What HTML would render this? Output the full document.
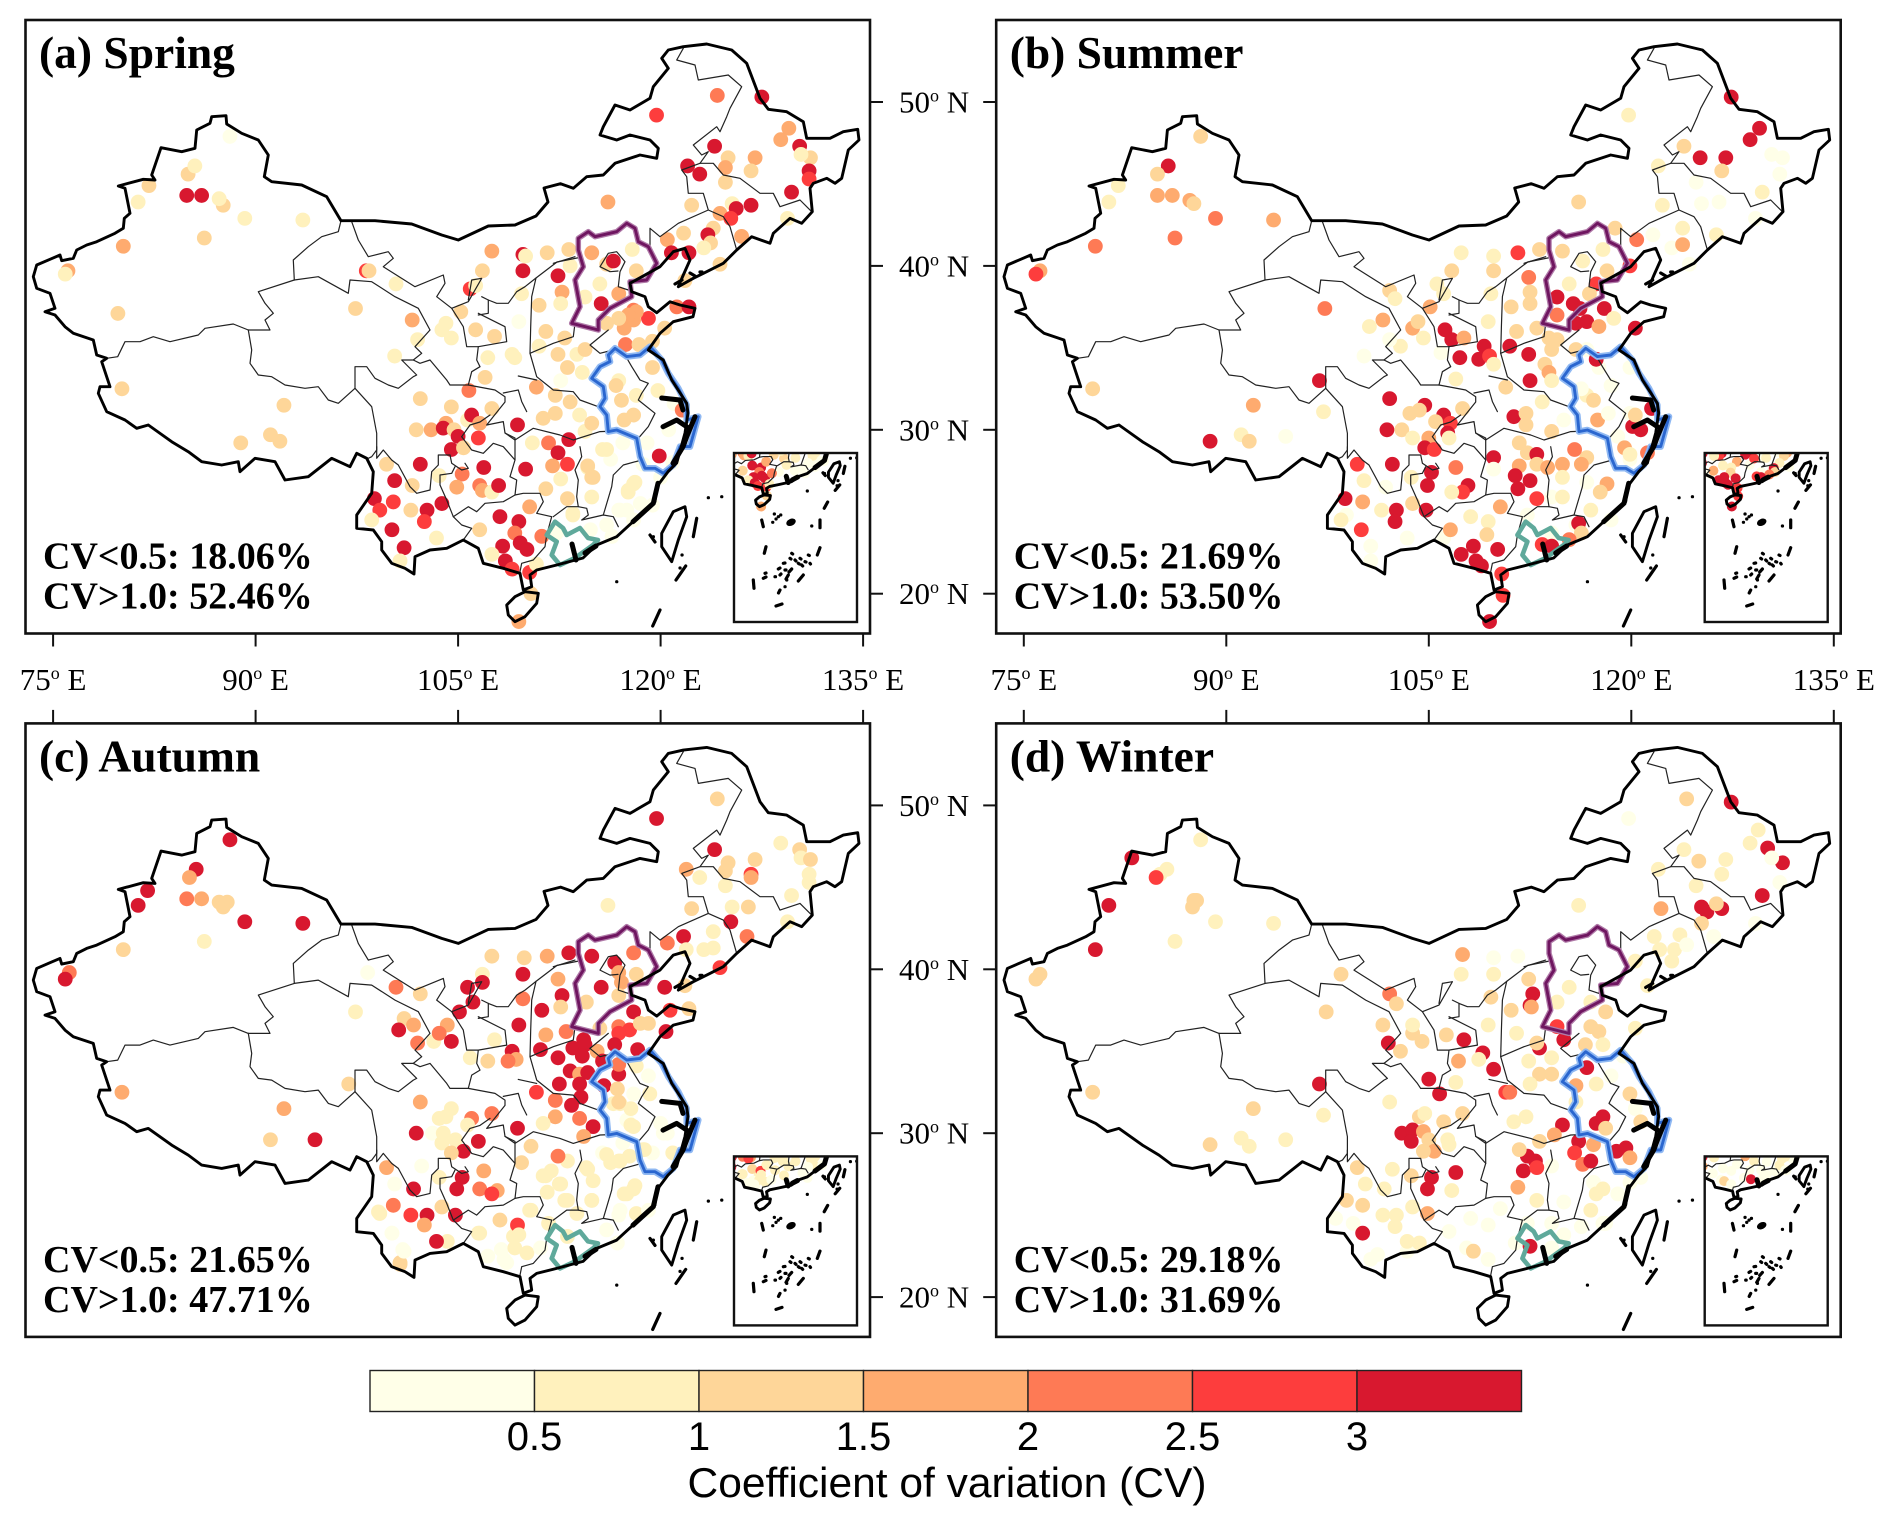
<!DOCTYPE html>
<html lang="en">
<head>
<meta charset="utf-8">
<title>Seasonal coefficient of variation maps</title>
<style>
html,body{margin:0;padding:0;background:#fff;}
svg{display:block;}
.serif{font-family:"Liberation Serif",serif;fill:#000;}
.sans{font-family:"Liberation Sans",sans-serif;fill:#000;}
.thin,.coast,.coast-thick,.isl{fill:none;vector-effect:non-scaling-stroke;stroke-linejoin:round;stroke-linecap:round;}
.thin{stroke:#222;stroke-width:1.2;}
.coast{stroke:#000;stroke-width:2.9;}
.coast-thick{stroke:#000;stroke-width:5;}
.isl{stroke:#000;stroke-width:3.2;}
</style>
</head>
<body>
<svg id="chart" xmlns="http://www.w3.org/2000/svg" width="1892" height="1525" viewBox="0 0 1892 1525">
<defs>
<clipPath id="inset-clip"><rect x="734" y="453" width="123" height="169"/></clipPath>
<g id="base-thin">
<path class="thin" d="M341,220.7 L338.3,231.7 321.7,236.7 308.3,246.7 293.3,260 294.3,280"/>
<path class="thin" d="M294.3,280 L258.3,291.7 265,303.3 273.3,313.3 265,320 270,330 248.3,330"/>
<path class="thin" d="M248.3,330 L233.3,324 205,328.3 198.3,335 170,341.7 153.3,336.7 140,341.7 125,341.7 117.7,356.7 106.7,358.3"/>
<path class="thin" d="M248.3,330 L251.7,350 250,363.3 258.3,375 271.7,376.7 285,385 305,388.3 318.3,386.7 328.3,400 338.3,403.3 355,388.3"/>
<path class="thin" d="M355,388.3 L355,366.7 366.7,366.7 375,378.3 388.3,385 398.3,388.3 413.3,376.7 416.7,375 401.7,360 413.3,360 420,363.3 430,360 446.7,380 450,385 468.3,385"/>
<path class="thin" d="M294.3,280 L318.3,276.7 348.3,293.3 350,280 371.7,281.7 395,296.7 418.3,308.3 430,330 415,346.7 421.7,353.3 413.3,360"/>
<path class="thin" d="M351.7,221.7 L358.3,240 368.3,256.7 388.3,251.7 393.3,258.3 383.3,266.7 415,286.7 443.3,275 445,283.3 436.7,296.7 451.7,308.3 468.3,301.7 481.7,278.3 471.7,280 468.3,300"/>
<path class="thin" d="M451.7,308.3 L463.3,326.7 466.7,346.7 478.3,346.7 476.7,360 480,366.7 471.7,371.7 468.3,385"/>
<path class="thin" d="M478.3,313.3 L505,326.7 506.7,341.7 478.3,346.7"/>
<path class="thin" d="M481.7,296.7 L488.3,300 496.7,303.3 508.3,303.3 516.7,291.7 525,286.7 536,278 557,262 582,257"/>
<path class="thin" d="M488.3,300 L488.3,313.3 478.3,315"/>
<path class="thin" d="M468.3,385 L495,390 505,396.7 505,402 493.3,416.6 486.7,425 503.3,421.6 505,433 515,440 533.3,428.3 560,435 573.3,440 600,431.6 616.7,431"/>
<path class="thin" d="M355,388.3 L371.7,406.7 376.7,433.3 376.7,450 371.7,456.7 368.3,458.3"/>
<path class="thin" d="M376.7,446.7 L376.7,458.3 383.3,450 391.7,460 398.3,465 410,486.7 416.7,493.3 430,490 431.7,471.7 438.3,465 438.3,455 450,455 451.7,463.3 461.7,470 468.3,468.3 465,463.3"/>
<path class="thin" d="M461.7,436.7 L471.7,450 483.3,453.3 493.3,443.3 503.3,446.7 515,460 510,476.7 516.7,480 515,495 503.3,501.7 485,503.3 476.7,511.7 468.3,506.7 453.3,516.7 446.7,500 440,485 440,475 451.7,473.3 455,466.7"/>
<path class="thin" d="M461.7,436.7 L470,425 480,422 490,415 M505,433 L515,438 515,460"/>
<path class="thin" d="M453.3,516.7 L461.7,525 471.7,528.3 463.3,540"/>
<path class="thin" d="M515,495 L523.3,493.3 540,493.3 543.3,501.7 536.7,513.3 551.7,516.7 546.7,535 545,546.7 533.3,560 521.7,563.3 520,571.7"/>
<path class="thin" d="M580,446.7 L581.7,456.7 575,470 578.3,480 576.7,496.7 578.3,506.7 566.7,506.7 553.3,516.7"/>
<path class="thin" d="M578.3,506.7 L586.7,508.3 588.3,515 581.7,520 603.3,515 613.3,516.7 618.3,526.7"/>
<path class="thin" d="M603.3,515 L611.7,486.7 613.3,475 623.3,465 641.7,460"/>
<path class="thin" d="M536,278 L531.7,296.6 530.7,326.6 530,353.3 536.7,376.7 553.3,390 573.3,391.7 580,400 598.3,406.7"/>
<path class="thin" d="M530,353.3 L553.3,343.3 573.3,336.7 575,323.3"/>
<path class="thin" d="M553.3,263.3 L575,256.7"/>
<path class="thin" d="M608.3,330 L590,345 600,353.3 613,350"/>
<path class="thin" d="M518.3,376 L536.7,380 M503.3,393 L518.3,390 521.7,401.6 526.7,411.6"/>
<path class="thin" d="M625,355 L631.7,366.6 640,380 648.3,383.3 641.7,393.3 638.3,400 655,413.3 648.3,426.6 638.3,438.3"/>
<path class="thin" d="M683.3,48.3 L676.7,60 695,65 698.3,80 728.3,75 741.7,86.7 730,108.3 726.7,116.7 720,131.7 716.7,126.7 693.3,145 701.7,155 708.3,151.7 700,163.3 681.7,170 686.7,176.7 688.3,193.3 703.3,193.3 708.3,210 678.3,223.3 660,236.7 650,228.3 650,250"/>
<path class="thin" d="M700,163.3 L713.3,163.3 723.3,175 740,178.3 760,193.3 773.3,193.3 780,206.7 800,200 811.7,211.7"/>
<path class="thin" d="M708.3,210 L723.3,216.7 730,226.7 736.7,250"/>
<path class="thin" d="M600,266.7 L608.3,253.3 616.7,251.7 625,261.7 620,271.7 618.3,286.7 628.3,290 630,281 M600,266.7 L610,271.7 618,271"/>
</g>
<g id="base-regions">
<path d="M650,346.6 L640,355 626.7,356.6 615,348.3 608.3,355 610,361.6 600,366.6 591.7,378.3 603.3,386.6 605,398.3 600,406.6 606.7,415 608.3,431.6 616.7,430 636.7,438.3 640,456.6 645,468.3 655,468.3 663.3,473.3 673.3,465 680,446.6 690,446.6 698.3,416.6 686.7,420 686.7,405 678.3,388.3 668.3,373.3 661.7,360 Z" fill="none" stroke="#8fb8f2" stroke-width="6.5" stroke-linejoin="round" vector-effect="non-scaling-stroke"/>
<path d="M650,346.6 L640,355 626.7,356.6 615,348.3 608.3,355 610,361.6 600,366.6 591.7,378.3 603.3,386.6 605,398.3 600,406.6 606.7,415 608.3,431.6 616.7,430 636.7,438.3 640,456.6 645,468.3 655,468.3 663.3,473.3 673.3,465 680,446.6 690,446.6 698.3,416.6 686.7,420 686.7,405 678.3,388.3 668.3,373.3 661.7,360 Z" fill="none" stroke="#2a66cf" stroke-width="2.9" stroke-linejoin="round" vector-effect="non-scaling-stroke"/>
<path d="M588.3,231.7 L595,236.7 616.7,231.7 626.7,223.3 635,228.3 638.3,241.7 648.3,246.7 656.7,263.3 646.7,280 630,281.7 631.7,296.7 610,308.3 598.3,320 598.3,330 571.7,323.3 580,306.7 575,280 583.3,266.7 578.3,250 578.3,238.3 Z" fill="none" stroke="#b07aa8" stroke-width="5.5" stroke-linejoin="round" vector-effect="non-scaling-stroke"/>
<path d="M588.3,231.7 L595,236.7 616.7,231.7 626.7,223.3 635,228.3 638.3,241.7 648.3,246.7 656.7,263.3 646.7,280 630,281.7 631.7,296.7 610,308.3 598.3,320 598.3,330 571.7,323.3 580,306.7 575,280 583.3,266.7 578.3,250 578.3,238.3 Z" fill="none" stroke="#6f1660" stroke-width="2.9" stroke-linejoin="round" vector-effect="non-scaling-stroke"/>
<path d="M555,521.7 L546.7,535 556.7,541.7 551.7,555 560,565 575,558 593,545 598,540 588,538 580,528 566.7,535 563,528 Z" fill="none" stroke="#5fa99b" stroke-width="4.6" stroke-linejoin="round" vector-effect="non-scaling-stroke"/>
</g>
<g id="base-coast">
<path class="coast" d="M33.3,276.7 L36.7,265 50,259.3 60,255 61.7,260.7 73.3,258.3 76.7,250 86.7,245 96.7,241.7 115,233.3 123.3,228.3 124.3,218.3 130,213.3 125,188.3 118.3,186 143.3,179.3 155,180 151.7,175 161,147.7 181.7,151.7 195,148.3 196.7,130 210,123.3 211.7,116.7 226,115.7 226.7,124 241.7,133.3 258.3,140 268.3,155 264.3,176.7 271.7,181.7 301.7,185 326.7,196.7 341,220.7 375,220.7 411.7,224 441.7,235 458.3,240 488.3,226 515,225 536,216 548,202 544,188 560.6,183.7 573.3,188.3 586.7,176.7 603.3,175 615,163.3 640,155 656.7,158.3 658.3,148.3 650,140 630,135 616.7,140 600,135 603.3,126.7 615,105 630,110 650,98.3 653.3,86.7 668.3,68.3 661.7,58.3 668.3,50 683.3,46.7 706.7,44 731.7,50 746.7,63.3 760,98.3 768.3,109.3 786.7,111.7 803.3,121.7 806.7,138.3 830,138.3 843.3,131.7 857.7,129.3 859,140 848.3,150 841.7,178.3 835,183.3 826.7,178.3 813.3,183.3 810,188.3 812.3,211.7 801.7,223.3 790,218.3 773.3,233.3 770,243.3 751.7,236.7 736.7,250 723.3,263.3 706.7,271.7 693.3,278.3 678.3,286.7 683.3,275 690,260 685,248.3 673.3,251.7 660,266.7 630,283.3 631.7,291.7 645,296.7 648.3,306.7 656.7,312.7 670,301.7 680,305 695,308.3 693,316.7 673.3,321.7 660,333.3 648.3,350 663.3,360 671.7,380 686.7,403.3 688,413 685,433 676.7,463 668,471.7 656.7,486.7 655,501.7 633,521.7 616.7,536.7 596.7,545 583,558 556.7,565 536.7,570 530,575 531.7,586.7 523.3,590 520,573.3 503.3,568.3 483.3,563.3 478.3,548.3 463.3,540 446.7,548.3 430,550 415,556.7 414,574 405,568.3 391.7,563.3 381.7,550 381.7,541.7 373.3,530 356.7,528.3 356.7,515 371.7,493.3 373.3,471.7 366.7,458.3 356.7,453.3 350,466.7 331.7,458.3 308.3,476.7 285,480 275,461.7 255,458.3 240,471.7 238.3,461.7 221.7,465 201.7,461.7 188.3,451.7 171.7,441.7 148.3,425 136.7,428.3 125,420 106.7,411.7 98.3,393.3 100,386.7 110,386.7 101.7,361.7 106.7,358.3 96.7,355 93.3,340 73.3,333.3 65,326.7 55,315 45,311.7 55,308.3 50,293.3 36.7,288.3 Z"/>
<path class="coast" d="M525,591.7 L538.3,593.3 536.7,603.3 525,616.7 515,621.7 508.3,615 506.7,605 515,596.7 Z"/>
<path class="coast" d="M685,506.7 L686.7,516.7 678.3,540 671.7,561.7 661.7,546.7 661.7,533.3 673.3,511.7 Z"/>
<path class="coast-thick" d="M661.7,398 L680,400 683,410 M663,426.7 L676.7,420 686.7,426.7 M695,416.7 L686.7,436.7 683,446.7 673,463.3 M658,483.3 L653.3,503.3 633,521.7 M572,544 L576,560 M585,553 L596,546"/>
<path class="isl" d="M696.7,518.3 L693.3,536.7 M685.7,566 L676,580 M660,610 L652.7,626 M616.7,581.7 L616.8,581.7 M708.3,497.7 L708.4,497.7 M721.7,496.7 L721.8,496.7 M653.3,536.7 L653.4,536.7 M650,535 L655,542 M680,568 L680.1,568 M682,555 L682.1,555"/>
<path class="isl" d="M675,284 L682,280 M690,273 L695,276 M700,272 L702,272"/>
</g>
<g id="inset-islands">
<path class="isl" d="M761.7,520 L763.3,526.7 M820,520 L820,527.7 M766,546.7 L764.3,553.3 M820,547.7 L817.3,555 M753.3,580 L754,588.3 M803.3,575 L798.3,581 M811.7,526 L811.8,526 M774.3,514 L774.4,514 M778.3,516.7 L778.4,516.7 M776,519 L776.1,519 M780.7,515 L780.8,515 M772.7,522.3 L772.8,522.3 M791.7,553.3 L792.7,554 M790,558.3 L791,559 M795,560 L796,561 M800,558.3 L801,559 M805,561.7 L806,562 M801.7,565 L802.7,566 M808.3,555 L809.3,555.5 M810,563.3 L810.5,564 M798.3,563.3 L799.3,564 M783.3,563.3 L785,563 M778.3,569 L780,568 M785,570 L786,570 M791.7,569 L789,572 M780,575 L781,574 M775,576.7 L775.5,576.7 M788.3,575 L786,579 M786.7,580 L786.8,580 M765,573.3 L766,573 M763.3,578.3 L766,577 M780,590 L778.5,593 M785,586.7 L785.1,586.7 M776,606 L782,604"/>
<ellipse cx="791" cy="522.3" rx="5" ry="3.4" transform="rotate(-25 791 522.3)" fill="#000"/>
</g>
</defs>
<rect x="0" y="0" width="1892" height="1525" fill="#fff"/>
<g id="panels"></g>
<g id="colorbar"></g>
<text class="sans" x="947" y="1497" font-size="42" text-anchor="middle" textLength="519" lengthAdjust="spacingAndGlyphs">Coefficient of variation (CV)</text>
</svg>
<script>
const lonTicks = [75, 90, 105, 120, 135];
const latTicks = [50, 40, 30, 20];
const cvEdges = [0.5, 1, 1.5, 2, 2.5, 3];
const cvTickLabels = ["0.5", "1", "1.5", "2", "2.5", "3"];
const cvColors = ["#FFFFE8", "#FFF1BD", "#FED699", "#FEAB6F", "#FE7A55", "#FD3D3D", "#D8182F"];

const springPoints = [[116,24.2,.3],[117.5,25.1,.3],[117,25.1,.3],[118.5,25.5,.3],[118,24.5,.3],[116.3,28.2,.3],[117.2,29.2,.3],[119,29.2,.3],[120.6,30,.3],[120,27.1,.3],[120.9,28,.3],[114.8,23.9,.3],[112.3,23.7,.3],[113.5,24.8,.8],[115.7,28.8,.8],[114.6,27.7,.8],[114.9,27.1,1.3],[117.6,26.3,.8],[118.1,26.8,.8],
[88.1,47.9,.3],[82.1,44.9,1.3],[81.3,43.9,.8],[85,45.6,1.3],[85.5,46.1,.8],[84.9,44.3,3.3],[86,44.3,3.3],[87.6,43.7,1.3],[87.3,44.1,.8],[89.2,42.9,.8],[93.5,42.8,.8],[86.2,41.7,1.3],[80.2,41.2,1.8],[76.1,39.7,1.8],[75.9,39.5,.8],[79.8,37.1,1.3],[80.1,32.5,1.3],[92.1,31.5,1.3],[88.9,29.2,1.3],[91.1,29.7,1.3],[91.8,29.3,1.3],[97.4,37.4,1.3],[98.2,39.7,2.8],[98.4,39.7,1.3],[100.4,38.9,.8],
[101.6,36.7,1.8],[102,35.5,.8],[100.3,34.5,.8],[104.1,36.5,.8],[103.8,36.1,.8],[104.5,35.6,.8],[105.2,37.2,1.3],[105.9,38.6,2.8],[106.3,38.8,.8],[106.8,39.7,1.3],[107.5,40.9,1.8],[109.8,40.7,3.3],[110,40.6,.8],[109.8,39.7,3.3],[111.6,40.8,1.3],[113.2,41,1.3],[114.9,40.8,1.8],[116,40.1,1.3],[116.5,40.3,3.3],[117.9,41,.8],[118.2,39.7,1.3],[112.4,39.4,3.3],[112.7,38.4,1.8],[113.3,40,.8],[114.4,38.1,.8],[112.6,37.7,.8],[115.6,37.7,3.3],[115.5,38.9,.8],[116.9,38.3,1.8],[109.7,38.3,.8],[111,37.6,1.3],[109.5,36.6,.3],[106.3,36.1,1.3],[107.7,35.7,1.3],[111.5,36,1.3],[112.9,35.6,1.3],[111,35.1,.8],[112.4,34.6,1.3],[107.2,34.4,.8],[109,34.6,.8],[109.2,34.4,.8],[107,33.2,1.3],[105.8,32.4,2.3],[110.8,32.6,1.8],[112.6,33,.3],[112.2,32.1,1.3],[113.3,31.7,1.3],[102.2,31.9,1.3],[104.5,31.4,1.3],[104.1,30.4,1.8],[107.5,31.3,1.3],[105.7,30.6,.8],[106,30.9,3.3],[106.6,30.4,1.8],[101.9,30,1.3],[103,30,1.8],[103.9,30.1,3.3],[104.7,30,1.3],[105,29.6,3.3],[106.5,29.5,2.8],[104.5,28.8,3.3],[105.4,28.9,1.3],[109.4,30.3,3.3],[111.3,30.7,1.3],[112.2,31,1.3],[114,30.9,.8],[114.4,29.9,.8],[114.9,30.4,1.3],[113.2,29.4,3.3],[111.7,29.2,2.3],[110.5,29.2,.8],[112.4,28.6,3.3],[113.1,27.9,2.8],[112,27.8,1.8],[110,27.6,3.3],[106.9,27.7,3.3],[102.2,27.9,3.3],[99.7,27.9,1.3],[100.3,26.9,3.3],[101.6,26.6,1.3],[103.6,27.2,.8],[105.3,27.3,2.3],[106.6,26.6,2.3],[106.8,26.3,1.8],[107.5,26.2,.8],[108,26.6,3.3],[104.9,26.5,1.8],[98.8,25.8,3.3],[100.2,25.6,2.8],[103.8,25.5,3.3],[99.2,25.1,2.8],[101.5,25.1,1.3],[102.7,25.1,3.3],[102.5,24.4,2.8],[100.1,23.9,3.3],[103.4,23.4,.8],[101,22.8,3.3],[100.7,22,.8],[98.6,24.5,.8],[108.1,24.7,3.3],[109.5,24.4,3.3],[109.2,23.7,2.3],[106.6,23.9,1.3],[110.3,25.3,1.8],[109.6,23.1,3.3],[110.1,22.7,3.3],[108.3,22.9,3.3],[107.5,22.4,.8],[108.5,22,3.3],[109,21.5,2.8],[110.3,21.3,2.8],[111.2,23.5,2.3],[110.8,21.8,.8],[109.5,18.3,1.8],[110.4,20,1.3],
[113.8,34.6,.8],[114.4,34.9,1.3],[113.1,33.8,1.3],[114.2,33.5,.8],[116.9,33,.8],[117.1,31.8,1.3],[118,30.9,1.3],[117.3,30.6,1.3],[116.7,32.7,1.3],[118.2,32.1,.8],[119.4,33.8,1.3],[119.8,32.4,.8],[121,31.6,.3],[121.6,31.2,2.3],[119.9,28.4,3.3],[116,28.8,.8],[114.6,27.8,1.3],[115,27.1,1.3],[114.9,25.9,.8],[113.1,25.8,1.3],[111.5,26.4,1.3],[112.6,27,.8],[113.5,24.9,.8],[118,26.7,.8],[117.6,26.2,.8],[116.9,25.1,.3],[116.4,23.5,.3],[119.4,25.4,.3],[118.7,27.9,.3],
[118,37.3,2.3],[119.1,36.8,2.8],[118.2,37.2,1.8],[117.3,36.2,1.8],[118,36.7,1.8],[117.6,37,1.8],[116.9,36.8,1.3],[116,36.5,1.3],[121.2,37.5,2.3],[122.1,37.5,3.3],[120.3,36.2,1.3],[117.4,35.2,2.3],[118.4,35.2,1.3],[119.4,35.4,1.3],
[119.7,49.2,2.8],[124.2,50.4,2.3],[127.5,50.3,3.3],[129.5,48.4,1.8],[128.9,47.7,1.8],[130.3,47.3,3.3],[124,47.3,3.3],[131.1,46.6,1.3],[130.4,46.8,.8],[127,46.6,1.8],[125,46.6,1.3],[124.8,46,1.8],[126.7,45.8,1.3],[122,46.1,3.3],[122.9,45.6,3.3],[131,45.8,3.3],[131,45.3,2.8],[124.8,45.1,1.3],[129.7,44.5,3.3],[116.1,43.9,1.8],[122.3,43.7,1.3],[125.3,43.8,.8],[126.7,43.7,3.3],[125.6,43.5,3.3],[124.4,43.2,1.8],[125.2,42.9,2.8],[129.4,42.9,.8],[123.9,42.3,1.3],[123.5,41.9,3.3],[121.7,42,1.3],[120.5,41.6,1.8],[126,41.8,1.8],[123.7,41.4,1.3],[123.2,41.1,.8],[120.8,40.8,3.3],[122.1,40.8,3.3],[124.4,40.1,1.3],[121.8,39.1,1.3]];

const summerPoints = [[115.9,24.2,.3],[118.5,24.5,.3],[114.1,25.9,.3],[116.7,26.8,.3],[119.9,31,.3],[118.5,32.7,.3],[119.9,33.8,.3],[119.9,28.2,.3],[119,29.6,.3],[106.1,23.4,.3],[112.3,24.8,.3],[114.1,23.7,.3],[100.7,22.9,.3],[98.9,24.8,.3],[117.6,33.8,.3],[116.7,34.9,.3],
[88.1,47.9,1.3],[85.7,46.1,3.3],[84.9,45.6,1.3],[82,44.9,.8],[81.3,43.9,.8],[84.9,44.3,1.8],[86,44.3,1.8],[87.3,44,1.8],[87.6,43.8,1.3],[89.2,42.9,2.3],[93.5,42.8,1.8],[86.2,41.7,2.3],[80.3,41.2,2.3],[76.2,39.7,1.8],[75.9,39.5,2.8],[97.3,37.4,2.3],[80.1,32.5,1.3],[92,31.5,1.8],[88.8,29.3,3.3],[91.1,29.7,.8],[91.7,29.3,1.3],[94.4,29.6,.3],[97.2,31.1,.8],[96.9,33,3.3],
[119.8,49.2,.8],[127.4,50.3,3.3],[129.5,48.4,3.3],[128.8,47.7,3.3],[130.4,46.8,.3],[123.9,47.3,1.3],[125.1,46.6,3.3],[127,46.6,3.3],[126.7,45.8,1.3],[122,46.1,.8],[129.7,44.5,.8],[131.2,46.6,.3],[131,45.6,.3],[124.8,45.1,.3],[126.5,43.9,.3],[121.6,41.9,.3],[123,41.1,.3],[129.2,42.9,.3],[124.3,40.1,.3],[116.1,43.9,1.3],[122.3,43.7,.8],[125.2,43.8,.3],[118.8,42.3,1.3],[120.4,41.6,2.3],[123.8,42.3,.8],[123.8,41.3,1.8],[126.3,41.9,.8],
[107.4,40.8,.8],[109.8,40.6,.8],[111.6,40.8,2.8],[113.2,41,1.3],[114.9,40.9,1.3],[106.7,39.7,1.3],[109.8,39.7,1.3],[112.4,39.3,2.3],[117.9,41,.8],[116.4,40.3,.8],[118.2,39.7,1.3],[119.9,40,2.8],[117.4,38.9,2.8],[115.4,38.9,.8],[112.5,38.4,1.3],[112.5,37.7,1.3],[114.5,38.1,3.3],[115.7,37.7,3.3],[116.9,38.3,1.3],[109.6,38.3,.8],[111.1,37.5,1.3],[118,37.4,3.3],[114.5,37,2.3],[116.2,37.4,3.3],[115.9,36.5,3.3],[116.7,36.6,3.3],[117.6,36.3,1.8],[120.3,36.2,3.3],[118.7,36.8,.8],[109.4,36.6,.8],[111.5,36,1.3],[113,36.2,1.3],[113.9,35.6,1.3],[114.5,35.5,1.3],[105.1,37.5,1.8],[101.6,36.7,1.8],[100.6,36.3,.8],[102.1,38.5,1.3],[102.5,38,.8],[105.6,38.9,.8],[106.1,38.3,.8],[106.2,36.1,3.3],[106.7,35.5,3.3],[107.6,35.6,1.8],[103.8,36.2,1.8],[104.2,36.6,1.3],[104.6,35.6,.8],[102.9,35.1,.8],[102.1,35.5,.3],[100.2,34.5,.3],
[107.3,34.4,3.3],[109.1,35.1,3.3],[108.7,34.3,3.3],[109.5,34.5,2.8],[111,35.1,3.3],[112.4,34.6,3.3],[114.1,34.9,1.3],[115.9,34.9,1.3],[117.4,34.3,3.3],[113.6,34,1.3],[113.9,33.5,1.8],[112.5,33,3.3],[114.1,33,.8],[110.7,32.6,1.3],[107,33.1,.8],[105.9,34.7,.3],[109.8,34,.8],
[102.1,31.9,3.3],[104.7,31.5,3.3],[103.6,31,1.3],[104.3,31.2,1.3],[107.5,31.3,1.3],[106.1,30.9,3.3],[106.6,30.4,2.8],[106.4,29.8,3.3],[106.5,29.5,.8],[105.5,30.5,1.3],[101.9,30,3.3],[103,30,1.3],[105,29.5,1.8],[104.7,28.9,3.3],[105.4,28.8,2.8],[103.8,29.5,.8],
[111.3,30.8,3.3],[112.2,31,1.3],[113.4,31.7,.8],[112.2,30.3,1.3],[114.1,29.9,1.3],[115,30.6,.3],[116.7,32.1,.8],[117.2,31.8,1.3],[116.3,32.5,.3],[117.5,30.6,1.8],[118.3,31,.3],[120.1,30.2,3.3],[120.7,30,3.3],[121.5,31.3,3.3],[120.3,30.9,1.3],[119.5,28.9,1.8],[119.9,28.5,.8],[121.2,28.6,2.3],
[111.7,29.2,1.3],[109.8,28.3,3.3],[112.3,28.6,1.3],[113,28.5,3.3],[111.7,27.8,1.8],[113,27.9,1.3],[111.4,27.2,3.3],[112.5,26.9,3.3],[113.8,27.7,1.8],[114.9,27.9,1.8],[116.7,28.3,1.3],[115.8,28.8,2.3],[116.3,27.9,1.8],[118.2,26.7,1.8],[117.7,26.2,1.3],[114.9,27.1,.8],[114.9,25.9,.8],[113,25.8,2.8],[111.6,26.4,3.3],[117,25.1,.8],
[105.2,27.4,3.3],[107,27.7,2.3],[104.9,26.6,3.3],[107.9,26.6,3.3],[107.5,26.2,2.8],[106.7,26.2,.8],[109.8,27.6,.3],[99.7,27.9,2.8],[102.3,27.9,3.3],[100.2,26.9,.8],[101.8,26.5,.3],[103.7,27.1,.8],[98.8,25.8,3.3],[100.1,25.6,1.8],[101.5,25.1,.8],[102.6,25.1,3.3],[102.5,24.4,3.3],[103.8,25.5,1.3],[104.8,25.1,3.3],[100,23.9,2.8],[98.5,24.5,.8],[100.7,22,.3],[103.4,23.4,.3],[106.6,23.9,1.8],[110.3,25.3,1.8],[108.1,24.7,.8],[109.4,24.4,.8],[109.3,23.6,1.3],[108.3,22.9,3.3],[110.1,22.7,3.3],[107.4,22.4,3.3],[108.5,22,3.3],[108.9,21.7,3.3],[110.4,21.2,2.8],[110.5,19.9,2.8],[109.5,18.3,3.3],[113.4,23,2.8],[116.1,24.3,3.3],[116.3,23.7,1.3],[115.4,23.3,2.3],[114.1,22.9,3.3]];

const autumnPoints = [[119.2,32.4,.8],[120,30.6,.3],[119.4,28.8,.3],[120.2,30,.3],[118.2,34.1,.8],[119.1,33.5,.3],[118,32.4,.3],[120.9,28.8,.8],[117,25.3,.3],[118.2,25.1,.8],[117.5,26.3,.8],[118.1,26.8,.8],[116,24.1,.3],[116.8,23.3,.3],[113.1,23.7,.8],[113.8,25.1,.8],[114.9,25.9,.8],[115,27.1,.8],[114.5,27.9,.8],[116.3,28.2,.8],[117,28.3,.8],[117.7,28.6,.8],[115.7,28.8,.3],[117.2,29.4,.3],[116.5,31.8,.8],[117,31.8,.8],[117.5,30.8,.3],[118,30.4,.8],[118.8,29,.8],[111.3,27.4,.8],[112.5,26.9,.8],[111.6,26.4,.8],[112.9,25.9,.8],[111.9,27.7,.8],[113.1,28.3,.8],[110.3,25.3,.8],[109.4,24.3,.8],[109.1,23.7,.8],[110.1,22.7,.8],[108.2,22.9,.3],[107.2,22.5,.3],[108.6,22.1,.3],[106.5,23.9,.8],[104.2,23.4,.8],[100.9,22.9,.3],[100.1,23.9,.3],[100.7,22.1,1.3],[99.1,25.2,.8],
[88.1,47.9,3.3],[85.6,46.1,3.3],[85.1,45.6,1.8],[82,44.8,3.3],[81.3,43.9,3.3],[84.9,44.3,2.3],[86,44.3,1.8],[87.3,44.1,1.3],[87.9,44.1,1.3],[87.6,43.8,1.3],[89.2,42.9,3.3],[93.5,42.8,3.3],[86.2,41.7,.8],[80.2,41.2,1.3],[76.2,39.8,2.3],[75.9,39.4,3.3],[80.1,32.5,1.8],[92.1,31.5,1.8],[91.1,29.6,1.3],[94.4,29.6,3.3],[97.4,37.4,.8],[96.9,33,1.3],
[119.7,49.2,3.3],[124.2,50.4,1.3],[128.9,47.7,.8],[130.3,47.3,1.3],[130.4,46.8,.8],[131.1,46.7,1.3],[124,47.3,3.3],[127,46.7,1.3],[125,46.5,1.3],[124.8,46,1.3],[121.9,46.1,1.8],[126.7,45.8,2.8],[126.7,45.6,1.8],[122.9,45.6,.8],[131,45.8,.8],[131,45.3,.8],[124.8,45.1,.8],[129.7,44.5,.8],[116.1,43.9,.8],[122.3,43.7,1.3],[125.3,43.8,.8],[126.5,43.8,1.3],[129.4,42.9,.8],[125.2,42.9,3.3],[123.9,42.3,.8],[121.7,42,3.3],[120.5,41.6,2.3],[126.4,42,2.3],[123.2,41.2,.8],[123.9,41.3,.8],[121.9,41.2,.8],[124.4,40.1,2.8],[120.3,38.9,3.3],[121.8,39,1.3],
[107.5,40.8,1.3],[109.9,40.7,1.3],[111.6,40.8,1.8],[113.2,41,3.3],[114.9,40.8,3.3],[118,41,2.3],[116.6,40.4,3.3],[116.9,39.8,1.8],[117.1,39.2,1.8],[118.2,39.7,1.3],[109.8,39.7,3.3],[106.8,39.7,.8],[106.8,39.2,3.3],[105.7,38.9,3.3],[98.3,39.8,.3],[100.4,38.9,2.3],[102.2,38.5,1.3],[106.1,38,3.3],[105.1,37.4,3.3],[112.4,39.4,1.8],[112.7,38.4,3.3],[112.6,37.7,1.3],[109.8,38.2,2.3],[114.5,38,1.3],[115.6,38.9,3.3],[116.9,38.4,1.3],[111.2,37.5,3.3],[118,37.4,3.3],[120.7,37.5,2.8],[122.1,37.6,1.3],[109.5,36.6,3.3],[111.5,36,1.8],[113,36.2,2.3],[114.3,35.7,3.3],[113.5,35.2,3.3],[114.4,35.4,3.3],[116.9,36.5,2.3],[117.7,36.3,2.8],[118.5,36.7,1.3],[119.1,36.7,1.3],[115.5,36.4,1.3],[116.9,36.1,2.8],[116.6,35.4,3.3],[118.3,35.1,3.3],[120.4,36.2,3.3],[115.3,35,1.8],
[101,37,1.3],[101.7,36.6,1.8],[100.6,36.3,3.3],[102,35.5,2.3],[103.2,35.6,.8],[104.2,36.6,1.8],[103.6,36.1,2.3],[104.5,35.6,3.3],[105.9,34.6,.8],[107.7,35.7,.8],[109,35,3.3],[109.3,34.5,1.8],[108.7,34.4,2.3],[107.2,34.4,1.3],[111.1,35.1,3.3],[112.4,34.6,3.3],[114.2,34.7,3.3],[115.7,34.4,3.3],[116.9,33.6,3.3],[116.9,34.2,2.3],[113.3,33.8,3.3],[114,33.6,1.8],[114.6,33.7,3.3],[112.5,33,3.3],[114,33,3.3],[115.8,32.9,3.3],[110.8,32.5,2.8],[112.2,32,2.3],[114.1,32.2,3.3],[113.4,31.7,3.3],[112.2,31,1.8],[114,30.9,2.3],[115,30.4,3.3],[114.3,29.8,1.8],[111.3,30.6,.8],[116.8,32.7,1.3],[117.8,31.5,.8],[116.9,31.9,1.3],[117.8,30.5,.8],[118.7,29,.8],[120.5,30,.3],[116,28.7,.8],[116.9,28.3,.8],
[102.2,31.9,1.8],[104.5,31.5,.8],[104.1,31,.8],[103.6,30.9,.8],[107.5,31.2,2.3],[106,30.9,2.3],[105.7,30.5,.8],[109.4,30.3,3.3],[101.9,30,3.3],[103.1,30,.3],[103.9,30,.8],[104.8,29.6,.8],[106.5,29.5,3.3],[103.8,29.4,.8],[105.4,28.9,3.3],[104.5,28.8,1.3],[105.3,27.3,3.3],[104.9,26.6,3.3],[112.4,28.6,2.3],[110.4,29.2,1.3],[109.7,28.2,1.3],[106.9,27.7,1.8],[99.7,27.9,1.8],[100.3,26.9,.3],[101.7,26.6,3.3],[102.3,28,.3],[103.6,27.3,.8],[106.6,26.6,2.3],[107.9,26.5,1.8],[107.5,26.3,2.8],[100.2,25.6,2.3],[101.5,25,2.8],[102.7,25,3.3],[103.8,25.5,1.3],[104.8,25,3.3],[102.5,24.4,1.8],[99.2,25.1,.8],[103.4,23.4,3.3],[100.1,23.9,.3],[100.7,22,1.3],[101,22.8,.3],[108.1,24.7,1.3],[109.4,24.4,2.8],[106.6,23.9,.8],[109.5,23.8,.8],[109.2,23,.8],[111.5,27.4,.8],[112.6,26.9,.8],[114.6,27.8,.8],[114.9,25.9,.8],[113.1,25.9,.8],[110.4,25.3,.8],[111.7,24.5,.8],[118,26.6,.8],[117.3,26.3,.8],[119.1,25.3,.3],[116.9,25,.3],[108.4,22.3,.3],[111.1,23,.3]];

const winterPoints = [[106.5,24,.3],[107.8,23,.3],[111.4,23.3,.3],[114.1,23,.3],[115,23.8,.3],[116.3,24.3,.3],[118.1,24.5,.3],[119,26.3,.3],[117.2,27,.3],[119.9,27,.3],[99.4,24.5,.3],[98.1,24.8,.3],[103.4,22.8,.3],[100.7,22.3,.3],[114.1,28,.3],[120.7,27.3,.3],[120.3,31.5,.3],[118.5,33.5,.3],[119.4,34.7,.3],[114.1,24.5,.3],[112.3,24.5,.3],[123,40.5,.8],[121.2,39,.8],[122.1,41.2,.8],[120.3,40.5,.8],
[88.1,47.9,.8],[83,46.8,3.3],[85.6,46.1,.8],[85.1,45.8,.8],[84.8,45.6,2.8],[81.3,43.9,3.3],[87.6,44.2,1.3],[87.8,44.2,1.3],[87.5,43.8,1.3],[89.2,42.9,.8],[93.5,42.8,.8],[86.2,41.7,.8],[80.3,41.2,3.3],[76.2,39.7,1.3],[75.9,39.4,1.3],[80.1,32.5,1.3],[92,31.5,1.3],[88.8,29.3,1.3],[91.1,29.7,.8],[91.7,29.2,.8],[94.4,29.6,.8],[97.2,31.1,.8],[96.9,33,3.3],[98.5,39.7,1.3],[97.4,37.4,1.3],[102.1,38.5,2.3],[102.6,37.9,1.3],[101.6,36.6,1.3],[102,35.5,3.3],[102.9,35,1.3],[102.1,31.9,.8],
[124.1,50.4,1.3],[127.4,50.2,3.3],[119.8,49.2,.3],[129.4,48.5,.8],[128.8,47.7,.8],[130.1,47.4,3.3],[131.2,46.5,3.3],[130.4,46.8,.3],[123.9,47.3,.8],[125,46.6,1.3],[127,46.7,.8],[126.7,45.8,.8],[122,46.1,.8],[124.8,45.1,.8],[129.7,44.5,3.3],[131,45.3,.3],[116.1,43.9,.8],[122.2,43.7,1.8],[125.2,43.8,3.3],[125.6,43.5,3.3],[126.7,43.7,3.3],[126.3,44,1.3],[129.2,42.8,.3],[126.1,42,.3],[125.2,42.8,1.3],[121.7,42,.8],[123.6,42.1,.8],[123.2,41.2,.8],[124.1,41.5,.3],
[107.5,40.9,1.8],[109.8,40.7,.3],[111.6,40.8,.3],[107.4,39.7,.8],[109.8,39.7,.8],[112.4,39.4,1.3],[112.7,38.5,3.3],[112.5,37.8,3.3],[112.6,37.7,1.8],[109.6,38.3,1.3],[111.1,37.5,1.3],[115.4,38.9,.8],[114.5,38,.8],[117,38,.8],[114.5,36.5,2.8],[115,35.7,3.3],[113.2,35.2,3.3],[117,36.5,1.3],[117.6,36.2,1.3],[118.1,37.4,1.3],[120.3,36.4,.8],[116.6,35.4,1.3],[117.9,35.4,.8],
[109.4,36.6,.8],[111.5,36.1,.8],[113,35.5,1.3],[106.3,36,1.3],[107.6,35.7,3.3],[103.8,36.1,1.3],[104.5,35.6,1.3],[103.8,36.6,.8],[109,34.9,3.3],[107.2,34.4,1.8],[109.8,33.9,3.3],[108.7,34.5,.8],[112.4,34.4,.8],[114.1,34.6,.8],[113.2,33.6,1.3],[114.1,33.6,1.3],[112.5,33,.8],[110.7,32.5,2.8],[111,32.5,2.3],[107,33.1,.8],[105,33.3,3.3],[105.8,32.4,3.3],[107.5,31.2,1.3],
[104.3,31,1.3],[104.7,31.2,.8],[106.1,30.7,1.3],[103,30,3.3],[103.8,30.2,3.3],[103.7,29.5,3.3],[104.6,30.1,1.8],[105,29.6,1.3],[106.4,29.6,.8],[106.5,29.3,.8],[105.4,28.9,1.8],[104.6,28.9,1.3],[111.3,30.7,.8],[112.2,31,.8],[114.9,30.5,3.3],[114.3,29.9,1.8],[115.9,32.9,1.8],[116.7,34,3.3],[117.4,33,.8],[115.9,31.9,.8],[117.4,30.6,3.3],[117.9,31,3.3],[118.1,30.3,1.3],[116.1,29.5,3.3],[118.9,28.9,3.3],[119.6,29.1,3.3],[119.9,28.5,1.8],[119.9,32.4,1.3],[120.7,30.7,1.3],[117.2,29.3,1.8],
[112.3,28.6,3.3],[112.9,28.3,3.3],[112,27.7,3.3],[113,27.9,2.8],[111.7,29,1.3],[113.2,29.5,1.3],[115.8,28.8,2.8],[116.4,28.1,2.3],[117,28.3,3.3],[117.9,26.6,.8],[117.4,26.3,.8],[117,25.3,.8],[107,27.6,3.3],[105.2,27.3,3.3],[104.9,26.6,3.3],[106.7,26.5,.8],[103.7,27.4,1.3],[102.3,27.8,.8],[99.7,27.9,1.3],[100.3,26.9,.8],[101.7,26.6,.8],[98.9,25.9,1.3],[100.1,25.6,1.3],[101.6,25,.8],[102.6,25,.8],[103.8,25.5,.8],[104.9,25.1,1.8],[102.5,24.3,.8],[100.1,23.9,3.3],[101.2,22.6,.3],[103.4,23.4,.8],[104.3,23.3,.8],[108.1,24.8,.3],[109.4,24.4,.3],[111.6,26.7,1.8],[110.3,25.4,.3],[108.3,22.8,1.3],[112.5,23.1,3.3],[109.4,22.3,.3],[115,25.8,.3],[113,25.9,.8],[117.9,24.5,.3]];

const panelTitles = ["(a) Spring", "(b) Summer", "(c) Autumn", "(d) Winter"];
const lowShareLabels = ["CV<0.5: 18.06%", "CV<0.5: 21.69%", "CV<0.5: 21.65%", "CV<0.5: 29.18%"];
const highShareLabels = ["CV>1.0: 52.46%", "CV>1.0: 53.50%", "CV>1.0: 47.71%", "CV>1.0: 31.69%"];
const panelPoints = [springPoints, summerPoints, autumnPoints, winterPoints];

const NS = "http://www.w3.org/2000/svg";
function mk(tag, parent, attrs) {
  const el = document.createElementNS(NS, tag);
  for (const k in attrs) el.setAttribute(k, attrs[k]);
  parent.appendChild(el);
  return el;
}
function xScale(lon) { return 53.1 + (lon - 75) * 13.5; }
function yScale(lat) { return 102 + (50 - lat) * 16.39; }
function xInset(lon) { return 762.4 + (lon - 109.7) * 6.35; }
function yInset(lat) { return 500.5 - (lat - 19.24) * 6.4; }
function cvColor(v) {
  let i = 0;
  while (i < cvEdges.length && v >= cvEdges[i]) i++;
  return cvColors[i];
}

const panelsRoot = document.getElementById("panels");
const offsets = [[0, 0], [970.7, 0], [0, 703.4], [970.7, 703.4]];

panelPoints.forEach(function (points, p) {
  const g = mk("g", panelsRoot, { transform: "translate(" + offsets[p][0] + "," + offsets[p][1] + ")" });
  
  

  const frame = mk("rect", g, { x: 25.5, y: 20, width: 844.5, height: 613.5, fill: "#fff", stroke: "#111", "stroke-width": 2.6 });
  
  

  points.forEach(function (pt) {
    const c = mk("circle", g, { cx: xScale(pt[0]), cy: yScale(pt[1]), r: 7.4, fill: cvColor(pt[2]) });
    
    
  });

  const thin = mk("use", g, { href: "#base-thin" });
  
  
  const regions = mk("use", g, { href: "#base-regions" });
  
  
  const base = mk("use", g, { href: "#base-coast" });
  
  

  const insetBg = mk("rect", g, { x: 734, y: 453, width: 123, height: 169, fill: "#fff" });
  
  
  const inset = mk("g", g, { "clip-path": "url(#inset-clip)" });
  
  
  points.forEach(function (pt) {
    const c = mk("circle", inset, { cx: xInset(pt[0]), cy: yInset(pt[1]), r: 5, fill: cvColor(pt[2]) });
    
    
  });
  const insetThin = mk("use", inset, { href: "#base-thin", transform: "translate(517.2,264.2) scale(0.4704,0.3899)" });
  
  
  const insetBase = mk("use", inset, { href: "#base-coast", transform: "translate(517.2,264.2) scale(0.4704,0.3899)" });
  
  
  const islands = mk("use", g, { href: "#inset-islands" });
  
  
  const insetFrame = mk("rect", g, { x: 734, y: 453, width: 123, height: 169, fill: "none", stroke: "#111", "stroke-width": 2.4 });
  
  

  const title = mk("text", g, { x: 39, y: 68, "font-size": 45.5, "font-weight": "bold", class: "serif" });
  title.textContent = panelTitles[p];
  
  

  const low = mk("text", g, { x: 43, y: 568.5, "font-size": 38, "font-weight": "bold", class: "serif" });
  low.textContent = lowShareLabels[p];
  
  
  const high = mk("text", g, { x: 43, y: 608.5, "font-size": 38, "font-weight": "bold", class: "serif" });
  high.textContent = highShareLabels[p];
  
  

  lonTicks.forEach(function (lon) {
    const x = xScale(lon);
    const y1 = p < 2 ? 633.5 : 20;
    const y2 = p < 2 ? 646.5 : 6.5;
    const t = mk("line", g, { x1: x, x2: x, y1: y1, y2: y2, stroke: "#111", "stroke-width": 2 });
    
    
    if (p < 2) {
      const lab = mk("text", g, { x: x, y: 690, "font-size": 31, "text-anchor": "middle", class: "serif" });
      
      
      lab.appendChild(document.createTextNode(lon));
      const deg = mk("tspan", lab, { dy: -11, "font-size": 18 });
      deg.textContent = "o";
      const suf = mk("tspan", lab, { dy: 11 });
      suf.textContent = " E";
    }
  });

  latTicks.forEach(function (lat) {
    const y = yScale(lat);
    const left = p % 2 === 1;
    const t = mk("line", g, { x1: left ? 25.5 : 870, x2: left ? 12.5 : 883, y1: y, y2: y, stroke: "#111", "stroke-width": 2 });
    
    
    if (!left) {
      const lab = mk("text", g, { x: 899, y: y + 10.5, "font-size": 31, class: "serif" });
      
      
      lab.appendChild(document.createTextNode(lat));
      const deg = mk("tspan", lab, { dy: -11, "font-size": 18 });
      deg.textContent = "o";
      const suf = mk("tspan", lab, { dy: 11 });
      suf.textContent = " N";
    }
  });
});

const cb = document.getElementById("colorbar");
const cbX0 = 370, cbStep = 164.5, cbY = 1370.5, cbH = 41;
function cbScale(v) { return cbX0 + (v / 0.5) * cbStep; }
cvColors.forEach(function (col, i) {
  const s = mk("rect", cb, { x: cbX0 + i * cbStep, y: cbY, width: cbStep, height: cbH, fill: col, stroke: "#222", "stroke-width": 1.4 });
  
  
});
cvEdges.forEach(function (v, i) {
  const lab = mk("text", cb, { x: cbScale(v), y: 1450, "font-size": 40, "text-anchor": "middle", class: "sans" });
  lab.textContent = cvTickLabels[i];
  
  
});
</script>
</body>
</html>
